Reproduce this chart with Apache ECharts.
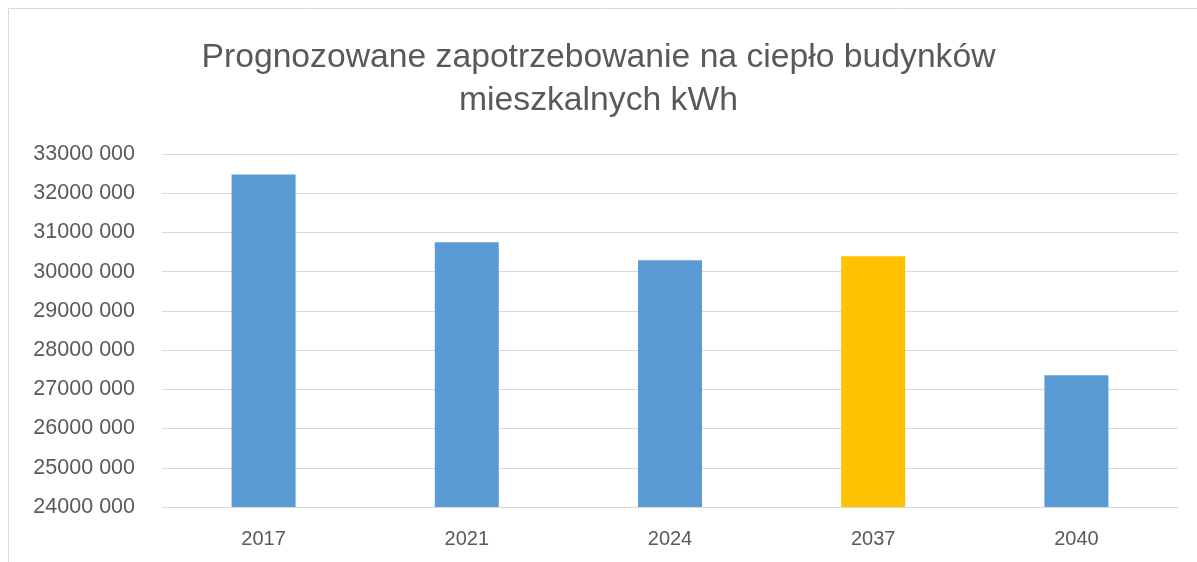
<!DOCTYPE html>
<html>
<head>
<meta charset="utf-8">
<script src="https://cdn.jsdelivr.net/npm/echarts@6/dist/echarts.min.js"></script>
<style>
html,body{margin:0;padding:0;background:#fff;}
#chart{width:1197px;height:562px;}
</style>
</head>
<body>
<div id="chart"></div>
<script>
const titleText = 'Prognozowane zapotrzebowanie na ciepło budynków\nmieszkalnych kWh';
const categories = ['2017', '2021', '2024', '2037', '2040'];
const values = [32480000, 30750000, 30290000, 30390000, 27360000];
const barColors = ['#5B9BD5', '#5B9BD5', '#5B9BD5', '#FFC000', '#5B9BD5'];
const yMin = 24000000, yMax = 33000000, yStep = 1000000;

function fmt(v) {
  const hi = Math.floor(v / 1000);
  const lo = String(v % 1000).padStart(3, '0');
  return hi + ' ' + lo;
}

const chart = echarts.init(document.getElementById('chart'), null, {renderer: 'canvas'});
chart.setOption({
  animation: false,
  backgroundColor: '#fff',
  textStyle: {fontFamily: 'Liberation Sans'},
  graphic: [{
    type: 'rect', shape: {x: 8.5, y: 8.5, width: 1300, height: 700},
    style: {fill: 'none', stroke: '#d9d9d9', lineWidth: 1}, silent: true
  }],
  title: {
    text: titleText, left: 'center', top: 31,
    textStyle: {fontFamily: 'Liberation Sans', fontSize: 33.7, fontWeight: 'normal', color: '#595959', lineHeight: 43}
  },
  grid: {left: 162, right: 19, top: 154, bottom: 55},
  xAxis: {
    type: 'category', data: categories,
    axisLine: {show: true, lineStyle: {color: '#d9d9d9', width: 1}},
    axisTick: {show: false},
    axisLabel: {color: '#595959', fontSize: 20, margin: 22}
  },
  yAxis: {
    type: 'value', min: yMin, max: yMax, interval: yStep,
    axisLine: {show: false}, axisTick: {show: false},
    splitLine: {lineStyle: {color: '#d9d9d9', width: 1}},
    axisLabel: {color: '#595959', fontSize: 21.5, margin: 27, formatter: fmt}
  },
  series: [{
    type: 'bar', barWidth: 64,
    data: values.map((v, i) => ({value: v, itemStyle: {color: barColors[i]}}))
  }]
});
</script>
</body>
</html>
